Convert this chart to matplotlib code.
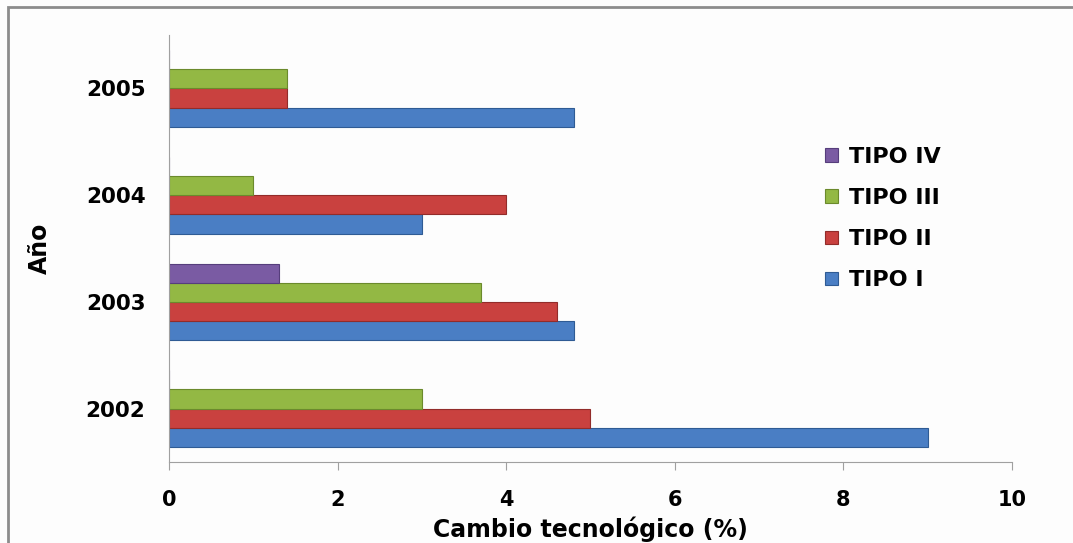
import numpy as np
import matplotlib.pyplot as plt
from matplotlib.patches import Rectangle

plt.rcParams['font.family'] = ['DejaVu Sans']

years = ['2002', '2003', '2004', '2005']
series = ['TIPO I', 'TIPO II', 'TIPO III', 'TIPO IV']
tipo1 = [9.0, 4.8, 3.0, 4.8]
tipo2 = [5.0, 4.6, 4.0, 1.4]
tipo3 = [3.0, 3.7, 1.0, 1.4]
tipo4 = [0.0, 1.3, 0.0, 0.0]
colors = ['#4a7ec4', '#c9413f', '#93b844', '#7a5ba3']
edges = ['#2f5b94', '#922c2a', '#6b8a2c', '#563e7c']

fig = plt.figure(figsize=(10.73, 5.43), dpi=100)
ax = fig.add_axes([0.1575, 0.149, 0.7855, 0.7865])
ax.set_facecolor('#fdfdfd')

y = np.arange(len(years))
h = 0.18
handles = []
for i, (vals, c, ec) in enumerate(zip([tipo1, tipo2, tipo3, tipo4], colors, edges)):
    b = ax.barh(y + (i - 1.5) * h, vals, height=h, color=c, edgecolor=ec,
                linewidth=0.8, label=series[i])
    handles.append(b)

ax.set_xlim(0, 10)
ax.set_ylim(-0.5, 3.5)
ax.set_xticks(range(0, 11, 2))
ax.set_yticks(y)
ax.set_yticklabels(years)
for lab in ax.get_xticklabels():
    lab.set_fontweight('bold')
    lab.set_fontsize(15)
for lab in ax.get_yticklabels():
    lab.set_fontweight('bold')
    lab.set_fontsize(15.5)
ax.tick_params(axis='x', direction='out', length=6, color='#a0a0a0', pad=14)
ax.tick_params(axis='y', length=0, pad=17)

for s in ['top', 'right']:
    ax.spines[s].set_visible(False)
ax.spines['left'].set_color('#a0a0a0')
ax.spines['bottom'].set_color('#a0a0a0')

ax.set_xlabel('Cambio tecnológico (%)', fontsize=17, fontweight='bold', labelpad=5)
ax.set_ylabel('Año', fontsize=17, fontweight='bold', labelpad=24)

leg = ax.legend(handles[::-1], series[::-1], loc='upper left',
                bbox_to_anchor=(0.755, 0.785), frameon=False,
                prop={'weight': 'bold', 'size': 16}, handlelength=0.55,
                handleheight=0.55, handletextpad=0.5, labelspacing=0.95)

# outer chart frame
fig.patches.append(Rectangle((0.0075, -0.05), 1.2, 1.037, transform=fig.transFigure,
                             fill=False, edgecolor='#8c8c8c', linewidth=2))

fig.savefig('out.png', dpi=100, facecolor='#fdfdfd')
